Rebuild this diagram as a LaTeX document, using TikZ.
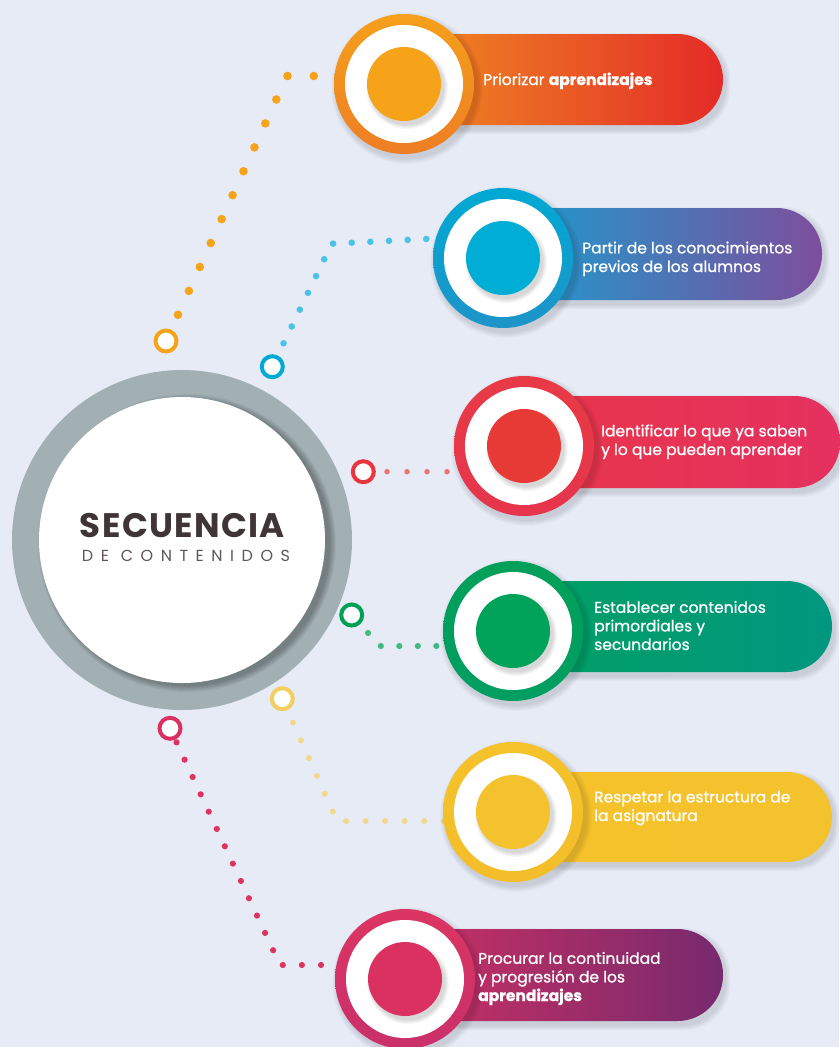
\documentclass[tikz,border=0pt]{standalone}
\usepackage{fontspec}
\setmainfont{Poppins}
\newfontfamily\medfont{Poppins}[FakeBold=0.9]
\usetikzlibrary{calc}
\definecolor{bgc}{HTML}{E7EBF6}
\definecolor{cgray}{HTML}{A2B0B4}
\definecolor{ctext}{HTML}{3F3537}
\definecolor{ctext2}{HTML}{5F5759}
% item colours
\definecolor{oA}{HTML}{F5A01B}\definecolor{oB}{HTML}{EE7E24}\definecolor{oD}{HTML}{F6A31A}
\definecolor{oL}{HTML}{F08B22}\definecolor{oR}{HTML}{E42B28}\definecolor{oDot}{HTML}{F5A31B}
\definecolor{bA}{HTML}{00A9D3}\definecolor{bB}{HTML}{1E94C8}\definecolor{bD}{HTML}{00ADD5}
\definecolor{bL}{HTML}{1A9ED0}\definecolor{bR}{HTML}{7D4E9D}\definecolor{bDot}{HTML}{4BC3E6}\definecolor{bH}{HTML}{00AAD4}
\definecolor{rA}{HTML}{E83A46}\definecolor{rB}{HTML}{E6354C}\definecolor{rD}{HTML}{E73A36}
\definecolor{rL}{HTML}{E8364A}\definecolor{rR}{HTML}{E53160}\definecolor{rDot}{HTML}{EC7272}\definecolor{rH}{HTML}{E8363F}
\definecolor{gA}{HTML}{00A05A}\definecolor{gB}{HTML}{009E62}\definecolor{gD}{HTML}{00A359}
\definecolor{gL}{HTML}{00A062}\definecolor{gR}{HTML}{009780}\definecolor{gDot}{HTML}{45B985}\definecolor{gH}{HTML}{00A056}
\definecolor{yA}{HTML}{F5C22B}\definecolor{yB}{HTML}{F3BE2A}\definecolor{yD}{HTML}{F4C22C}
\definecolor{yL}{HTML}{F5C22B}\definecolor{yR}{HTML}{F4C22C}\definecolor{yDot}{HTML}{F0D98E}\definecolor{yH}{HTML}{F3CF63}
\definecolor{mA}{HTML}{DB3563}\definecolor{mB}{HTML}{C9306A}\definecolor{mD}{HTML}{DB3160}
\definecolor{mL}{HTML}{CB3062}\definecolor{mR}{HTML}{772A6E}\definecolor{mDot}{HTML}{DD3362}\definecolor{mH}{HTML}{DC3062}
\pgfdeclarelayer{back}\pgfdeclarelayer{conn}
\pgfsetlayers{back,conn,main}
\newcommand\mypill[6]{%
  \foreach \s in {1,...,5}{\fill[black,opacity=0.025,rounded corners=45pt] (#1+2-\s,#2+4-\s) rectangle (#3+2+\s,#4+4+\s);}
  \shade[left color=#5,right color=#6,rounded corners=45.5pt] (#1,#2) rectangle (#3,#4);}
\newcommand\myring[6]{%
  \foreach \s in {1,...,6}{\fill[black,opacity=0.02] (#2+3,#3+4) circle[radius=70pt+\s pt];}
  \node[ringnode, top color=#4, bottom color=#5] (#1) at (#2,#3) {};
  \fill[white] (#1.center) circle[radius=59pt];
  \foreach \s in {1,...,5}{\fill[black,opacity=0.03] ([shift={(3,4)}]#1.center) circle[radius=36pt+\s pt];}
  \fill[#6] (#1.center) circle[radius=37pt];}
\begin{document}
\begin{tikzpicture}[x=1pt,y=-1pt,
  hollow/.style={circle, draw=#1, line width=4pt, fill=white, minimum size=21pt, inner sep=0pt},
  ringnode/.style={circle, minimum size=140pt, inner sep=0pt},
  lbl/.style={anchor=base west, align=left, text=white, font=\medfont\fontsize{15.5}{18.6}\selectfont, inner sep=0pt},
  conn/.style={draw=#1, line cap=round, line join=round}]
\begin{pgfonlayer}{back}
\fill[bgc] (0,0) rectangle (839,1047);
\end{pgfonlayer}
\useasboundingbox (0,0) rectangle (839,1047);

% hollow end circles
\node[hollow=oDot] (h1) at (166,341) {};
\node[hollow=bH] (h2) at (272.3,366.7) {};
\node[hollow=rH] (h3) at (363.3,471.7) {};
\node[hollow=gH] (h4) at (351.7,615) {};
\node[hollow=yH] (h5) at (282.3,698.7) {};
\node[hollow=mH] (h6) at (170,728.3) {};

% central circle
\node[circle, minimum size=340pt, fill=cgray, inner sep=0pt] (c) at (182,540) {};
\foreach \s in {0,...,6}{\fill[black,opacity=0.045] ([shift={(5,3)}]c.center) circle[radius=143pt+\s pt];}
\fill[white] (c.center) circle[radius=143pt];
\node[font=\bfseries\fontsize{34}{34}\selectfont\addfontfeature{LetterSpace=4}, text=ctext, anchor=base, inner sep=0pt] (s1) at (182.5,537) {SECUENCIA};
\node[font=\fontsize{16}{16}\selectfont\addfontfeature{LetterSpace=47}, text=ctext2, anchor=base, inner sep=0pt] (s2) at (186,561) {DE CONTENIDOS};

% items
\mypill{404}{34}{723}{125}{oL}{oR}
\myring{r1}{404}{84}{oA}{oB}{oD}
\mypill{503}{208}{822}{300}{bL}{bR}
\myring{r2}{503}{258}{bA}{bB}{bD}
\mypill{524}{396}{840}{488}{rL}{rR}
\myring{r3}{524}{446}{rA}{rB}{rD}
\mypill{513}{581}{832}{672}{gL}{gR}
\myring{r4}{513}{631}{gA}{gB}{gD}
\mypill{513}{772}{832}{862}{yL}{yR}
\myring{r5}{513}{812}{yA}{yB}{yD}
\mypill{405}{929}{723}{1021}{mL}{mR}
\myring{r6}{405}{979}{mA}{mB}{mD}

% labels (base anchor = baseline of the last line)
\node[lbl] (t1) at (483,85) {Priorizar \textbf{aprendizajes}};
\node[lbl] (t2) at (582,272) {Partir de los conocimientos\\previos de los alumnos};
\node[lbl] (t3) at (601,455) {Identificar lo que ya saben\\y lo que pueden aprender};
\node[lbl] (t4) at (594,650) {Establecer contenidos\\primordiales y\\secundarios};
\node[lbl] (t5) at (594,821) {Respetar la estructura de\\la asignatura};
\node[lbl] (t6) at (478,1001) {Procurar la continuidad\\y progresión de los\\\textbf{aprendizajes}};

% dotted connectors
\coordinate (k1) at (287,76);
\coordinate (k2) at (331.7,243.7);
\coordinate (e2) at (445,238);
\coordinate (k4) at (380,646);
\coordinate (k5) at (337,821);
\coordinate (k6) at (280,965);
\begin{pgfonlayer}{conn}
\draw[conn=oDot, line width=8.6pt, dash pattern=on 0pt off 26.3pt, dash phase=23.8pt] (h1.center) -- (k1) -- (k1 -| r1.center);
\draw[conn=bDot, line width=6.6pt, dash pattern=on 0pt off 18.66pt, dash phase=11.32pt] (h2.center) -- (k2) -- (e2);
\draw[conn=rDot, line width=5.5pt, dash pattern=on 0pt off 20pt, dash phase=16.3pt] (h3.center) -- (h3 -| r3.center);
\draw[conn=gDot, line width=6.2pt, dash pattern=on 0pt off 18.5pt, dash phase=12.7pt] (h4.center) -- (k4) -- (k4 -| r4.center);
\draw[conn=yDot, line width=6pt, dash pattern=on 0pt off 19.5pt, dash phase=12.9pt] (h5.center) -- (k5) -- (k5 -| r5.center);
\draw[conn=mDot, line width=6.2pt, dash pattern=on 0pt off 19.1pt, dash phase=3.6pt] (h6.center) -- (k6) -- (k6 -| r6.center);
\end{pgfonlayer}
\end{tikzpicture}
\end{document}
